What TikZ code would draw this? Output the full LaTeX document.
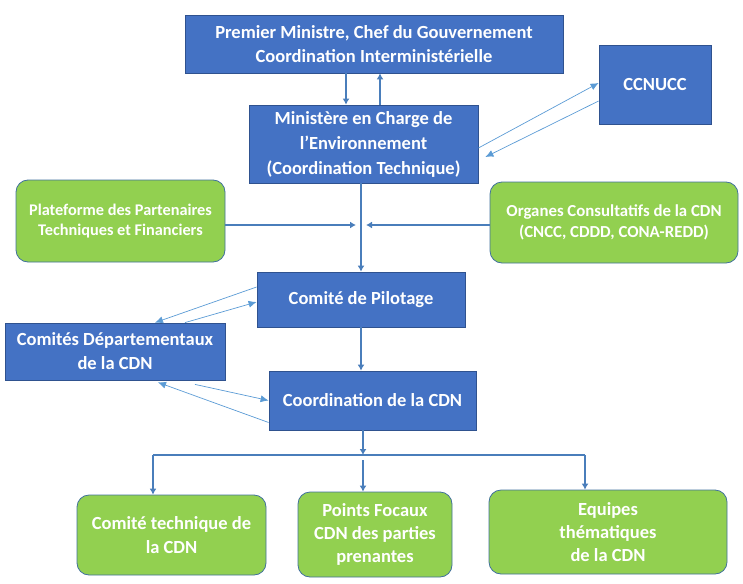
\documentclass[tikz,border=0pt]{standalone}
\usepackage{fontspec}
\setmainfont{Carlito}
\usetikzlibrary{arrows.meta}

\definecolor{boxblue}{HTML}{4472C4}
\definecolor{edgeblue}{HTML}{2F528F}
\definecolor{boxgreen}{HTML}{92D050}
\definecolor{edgegreen}{HTML}{41719C}
\definecolor{linkblue}{HTML}{5B9BD5}
\definecolor{flowblue}{HTML}{4A7EBB}

\tikzset{
  bluebox/.style={draw=edgeblue, fill=boxblue, thick, text=white, font=\bfseries\fontsize{18.5}{24}\selectfont, align=center, inner sep=0pt},
  greenbox/.style={draw=edgegreen, fill=boxgreen, thick, rounded corners=12pt, text=white, font=\bfseries\fontsize{18.5}{24}\selectfont, align=center, inner sep=0pt},
  flow/.style={draw=flowblue, line width=2.6pt, -{Latex[length=6pt,width=7pt]}},
  link/.style={draw=linkblue, line width=0.7pt, -{Latex[length=8pt,width=7pt]}}
}

\begin{document}
\begin{tikzpicture}[x=1pt,y=-1pt]
  \useasboundingbox (0,0) rectangle (743,583);

  % blue boxes
  \node[bluebox, minimum width=378pt, minimum height=58pt] (pm) at (374,44)
    {Premier Ministre, Chef du Gouvernement\\Coordination Interministérielle};
  \node[bluebox, minimum width=112pt, minimum height=79pt] (ccnucc) at (655,84.5) {CCNUCC};
  \node[bluebox, minimum width=229pt, minimum height=78pt, font=\bfseries\fontsize{18.5}{25}\selectfont] (mce) at (363.5,144)
    {Ministère en Charge de\\l’Environnement\\(Coordination Technique)};
  \node[bluebox, minimum width=208pt, minimum height=55pt] (pilot) at (361,299.5) {Comité de Pilotage};
  \node[bluebox, minimum width=220pt, minimum height=57pt] (dept) at (115,351.5)
    {Comités Départementaux\\de la CDN};
  \node[bluebox, minimum width=207pt, minimum height=59pt] (coord) at (372.5,400.5) {Coordination de la CDN};

  % green boxes
  \node[greenbox, minimum width=209pt, minimum height=82pt, font=\bfseries\fontsize{16.3}{20}\selectfont] (ptf) at (120.5,221)
    {Plateforme des Partenaires\\Techniques et Financiers};
  \node[greenbox, minimum width=248pt, minimum height=81pt, font=\bfseries\fontsize{16.8}{21}\selectfont] (organes) at (614,222.5)
    {Organes Consultatifs de la CDN\\(CNCC, CDDD, CONA-REDD)};
  \node[greenbox, minimum width=189pt, minimum height=80pt] (comtech) at (171.5,535)
    {Comité technique de\\la CDN};
  \node[greenbox, minimum width=154pt, minimum height=85pt, font=\bfseries\fontsize{18.5}{23}\selectfont] (points) at (375,534.5)
    {Points Focaux\\CDN des parties\\prenantes};
  \node[greenbox, minimum width=238pt, minimum height=84pt, font=\bfseries\fontsize{18.5}{23}\selectfont] (equipes) at (608,532)
    {Equipes\\thématiques\\de la CDN};

  \coordinate (mid) at (361,225);
  \coordinate (bar) at (363,455);
  \coordinate (barL) at (153,455);
  \coordinate (barR) at (585,455);

  % main flow
  \draw[flow] ([xshift=-28pt]pm.south) -- ([xshift=-28pt]pm.south |- mce.north);
  \draw[flow] ([xshift=6pt]pm.south |- mce.north) -- ([xshift=6pt]pm.south);
  \draw[flow] ([xshift=-2.5pt]mce.south) -- (pilot.north);
  \draw[flow] (ptf.east |- mid) -- ([xshift=-5pt]mid);
  \draw[flow] (organes.west |- mid) -- ([xshift=5pt]mid);
  \draw[flow] (pilot.south) -- (pilot.south |- coord.north);
  \draw[flow] (coord.south -| bar) -- (bar);
  \draw[draw=flowblue, line width=2.6pt] (barL) -- (barR);
  \draw[flow] (barL) -- (barL |- comtech.north);
  \draw[flow] ([yshift=-5pt]bar) -- (bar |- points.north);
  \draw[flow] (barR) -- (barR |- equipes.north);

  % exchanges
  \draw[link] ([yshift=-4pt]mce.east) -- ([yshift=1.5pt]ccnucc.west);
  \draw[link] ([yshift=-16.5pt]ccnucc.west) -- ([xshift=7pt,yshift=-13pt]mce.east);
  \draw[link] ([yshift=12.5pt]pilot.west) -- ([xshift=40pt]dept.north);
  \draw[link] ([xshift=70pt]dept.north) -- ([yshift=-2.5pt]pilot.west);
  \draw[link] ([xshift=80pt,yshift=-4pt]dept.south) -- (coord.west);
  \draw[link] ([yshift=-22pt]coord.west) -- ([xshift=43pt,yshift=-2pt]dept.south);
\end{tikzpicture}
\end{document}
